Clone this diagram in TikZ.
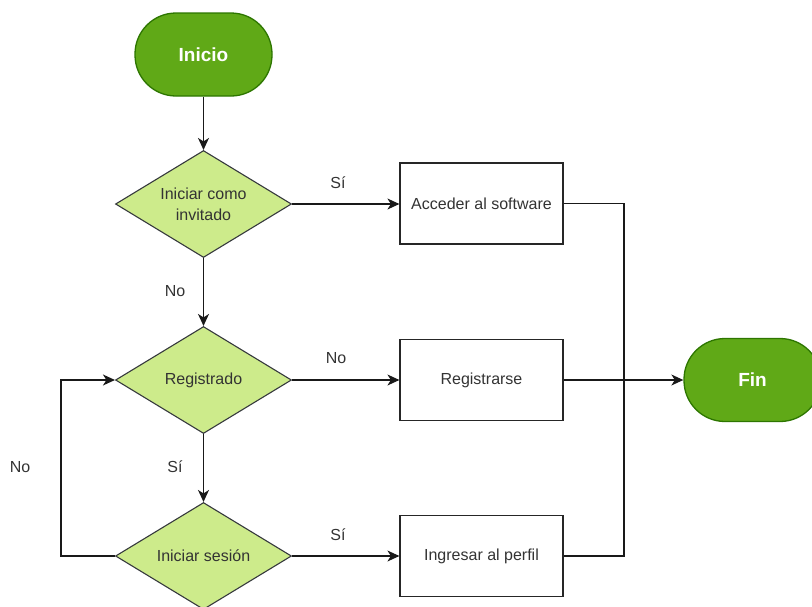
\documentclass[tikz,border=0pt]{standalone}
\usepackage{fontspec}
\setmainfont{Liberation Sans}
\usetikzlibrary{shapes.geometric,arrows.meta}
\definecolor{termfill}{HTML}{60A917}
\definecolor{termline}{HTML}{2D7600}
\definecolor{decfill}{HTML}{CDEB8B}
\definecolor{decline}{HTML}{36393D}
\definecolor{txt}{HTML}{333333}
\tikzset{
  terminal/.style={rectangle, rounded corners=41pt, minimum width=137pt, minimum height=83pt,
    fill=termfill, draw=termline, line width=1.3pt, text=white,
    font=\fontsize{19}{22}\selectfont\bfseries},
  decision/.style={diamond, aspect=1.65, minimum width=176pt, minimum height=107pt, inner sep=0pt,
    fill=decfill, draw=decline, line width=1.1pt, text=txt, align=center,
    font=\fontsize{16}{21}\selectfont},
  process/.style={rectangle, minimum width=163pt, minimum height=81pt,
    fill=white, draw=black!85, line width=1.2pt, text=txt,
    font=\fontsize{16}{19}\selectfont},
  lbl/.style={text=txt, font=\fontsize{16}{19}\selectfont, inner sep=0pt},
  flow/.style={draw=black!90, line width=1.2pt},
  arr/.style={flow, -{Stealth[length=12pt,width=11pt,inset=3.5pt]}},
}
\begin{document}
\begin{tikzpicture}[x=1pt,y=-1pt]
  \useasboundingbox (0,0) rectangle (812,606);
  \begin{scope}
  \clip (0,0) rectangle (812,606);
  % nodes
  \node[terminal] (inicio) at (203.5,54.5) {Inicio};
  \node[decision] (invitado) at (203.5,204) {Iniciar como\\invitado};
  \node[decision] (registrado) at (203.5,380) {Registrado};
  \node[decision] (sesion) at (203.5,556) {Iniciar sesión};
  \node[process] (acceder) at (481.5,203.5) {Acceder al software};
  \node[process] (registrarse) at (481.5,380) {Registrarse};
  \node[process] (perfil) at (481.5,556) {Ingresar al perfil};
  \node[terminal] (fin) at (752.5,380) {Fin};
  \coordinate (join) at (624,380);
  \coordinate (loop) at (61,380);

  % connectors
  \draw[arr] (inicio) -- (invitado);
  \draw[arr] (invitado.east) -- (acceder.west |- invitado.east);
  \draw[arr] (invitado) -- (registrado);
  \draw[arr] (registrado.east) -- (registrarse.west |- registrado.east);
  \draw[arr] (registrado) -- (sesion);
  \draw[arr] (sesion.east) -- (perfil.west |- sesion.east);
  \draw[arr] (sesion.west) -| (loop) -- (registrado.west);
  \draw[flow] (acceder.east) -| (join);
  \draw[flow] (perfil.east) -| (join);
  \draw[arr] (registrarse.east |- fin.west) -- (fin.west);

  % edge labels
  \node[lbl] (l1) at (338,183) {Sí};
  \node[lbl] (l2) at (175,291) {No};
  \node[lbl] (l3) at (336,358) {No};
  \node[lbl] (l4) at (175,467) {Sí};
  \node[lbl] (l5) at (20,467) {No};
  \node[lbl] (l6) at (338,535) {Sí};
  \end{scope}
\end{tikzpicture}
\end{document}
